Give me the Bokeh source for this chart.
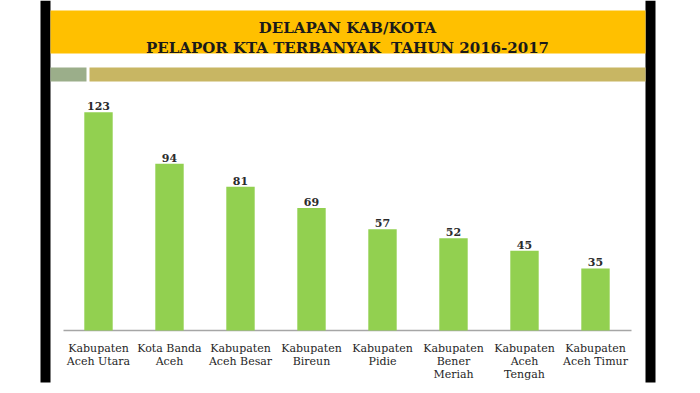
from bokeh.plotting import figure
from bokeh.models import Range1d, FactorRange, ColumnDataSource, CategoricalAxis
from bokeh.core.properties import value
from bokeh.embed import file_html
from bokeh.resources import INLINE

title_lines = ["DELAPAN KAB/KOTA", "PELAPOR KTA TERBANYAK\u00a0 TAHUN 2016-2017"]
categories = ["Kabupaten\nAceh Utara", "Kota Banda\nAceh", "Kabupaten\nAceh Besar",
              "Kabupaten\nBireun", "Kabupaten\nPidie", "Kabupaten\nBener\nMeriah",
              "Kabupaten\nAceh\nTengah", "Kabupaten\nAceh Timur"]
counts = [123, 94, 81, 69, 57, 52, 45, 35]

# ---- layout constants (pixels) ----
W, H = 693, 390
STEP = 71.0            # px per category
FIRST_CX = 98.0        # px centre of first bar
BASE_Y = 330.0         # px of value 0
PX_PER_UNIT = 1.775    # px per count
pad_left = (FIRST_CX - STEP / 2) / STEP
y_lo = -(H - BASE_Y) / PX_PER_UNIT
y_hi = BASE_Y / PX_PER_UNIT

def sx(px):
    # pixel -> synthetic categorical coordinate
    return (px - FIRST_CX) / STEP + 0.5

p = figure(width=W, height=H, output_backend="svg", toolbar_location=None,
           x_range=FactorRange(*categories, range_padding=pad_left,
                               range_padding_units="absolute"),
           y_range=Range1d(y_lo, y_hi),
           x_axis_location=None, y_axis_location=None,
           min_border=0, min_border_left=0, min_border_right=0,
           min_border_top=0, min_border_bottom=0)
p.outline_line_color = None
p.background_fill_color = "white"
p.border_fill_color = "white"
p.grid.visible = False
p.extra_y_ranges = {"py": Range1d(H, 0)}

def deco(l, r, t, b, color):
    p.quad(left=[sx(l)], right=[sx(r)], top=[t], bottom=[b], fill_color=color,
           line_color=None, y_range_name="py")

# slide decorations
deco(40, 50, 0, 382, "black")
deco(645, 655, 0, 382, "black")
deco(50, 645, 10, 53, "#FFC000")
deco(50, 86, 67, 81, "#9BAE8A")
deco(89, 645, 67, 81, "#C8B663")
deco(63, 631, 329.2, 330.8, "#A6A6A6")

p.text(x=[sx(347)] * 2, y=[27, 47], text=title_lines, y_range_name="py",
       text_align="center", text_baseline="alphabetic",
       text_font=value("DejaVu Serif"), text_font_size="15px",
       text_font_style="bold", text_color="#1A1A1A")

src = ColumnDataSource(dict(cat=categories, v=counts, lab=[str(c) for c in counts]))
p.vbar(x="cat", top="v", width=0.4, source=src, color="#92D050", line_color=None)
p.text(x="cat", y="v", text="lab", source=src, y_offset=-6, text_align="center",
       text_baseline="alphabetic", text_font=value("DejaVu Serif"), text_font_size="11px",
       text_font_style="bold", text_color="#2B2B2B")

ax = CategoricalAxis(fixed_location=0)
ax.major_tick_line_color = None
ax.minor_tick_line_color = None
ax.axis_line_color = None
ax.major_label_text_font = "DejaVu Serif"
ax.major_label_text_font_size = "11px"
ax.major_label_text_color = "#262626"
ax.major_label_text_line_height = 1.0
ax.major_label_standoff = 5
p.add_layout(ax, "below")

open("out.html", "w").write(file_html(p, INLINE))
